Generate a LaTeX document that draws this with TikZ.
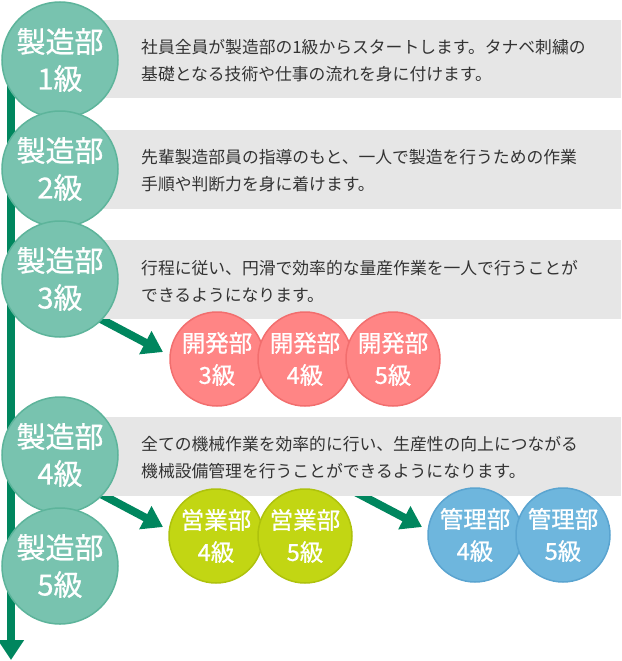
\documentclass[tikz,border=0pt]{standalone}
\usepackage{fontspec}
\setmainfont{Noto Sans CJK JP}
\newfontfamily\cjkbold[FakeBold=0.8]{Noto Sans CJK JP}
\usetikzlibrary{arrows.meta}
\definecolor{tealfill}{HTML}{78C3AF}
\definecolor{tealline}{HTML}{5DB49B}
\definecolor{redfill}{HTML}{FF8585}
\definecolor{redline}{HTML}{F26E6E}
\definecolor{limefill}{HTML}{C2D613}
\definecolor{limeline}{HTML}{AEC20C}
\definecolor{bluefill}{HTML}{6EB6DD}
\definecolor{blueline}{HTML}{5AA4D0}
\definecolor{barfill}{HTML}{E6E6E6}
\definecolor{arrowgreen}{HTML}{00865E}
\definecolor{bodytext}{HTML}{333333}
\tikzset{
  bigcircle/.style={circle, inner sep=0pt, minimum size=116pt, fill=tealfill,
    draw=tealline, line width=1.5pt, text=white, align=center,
    font=\cjkbold\fontsize{29}{37}\selectfont},
  smallcircle/.style={circle, inner sep=0pt, minimum size=94pt,
    line width=1.5pt, text=white, align=center,
    font=\cjkbold\fontsize{23.5}{32}\selectfont},
  redcircle/.style={smallcircle, fill=redfill, draw=redline},
  limecircle/.style={smallcircle, fill=limefill, draw=limeline},
  bluecircle/.style={smallcircle, fill=bluefill, draw=blueline},
  bar/.style={fill=barfill, draw=none},
  bartext/.style={anchor=west, inner sep=0pt, align=left, text=bodytext,
    font=\fontsize{16.8}{27}\selectfont},
  flow/.style={draw=arrowgreen, line width=8pt,
    -{Triangle[length=20pt,width=25pt]}},
}
\begin{document}
\begin{tikzpicture}[x=1pt,y=-1pt]
\useasboundingbox (0,0) rectangle (621,661);
% arrows (behind bars and circles)
\coordinate (a1s) at (80,308);
\coordinate (a1e) at (163,352);
\coordinate (a2s) at (80,483);
\coordinate (a2e) at (163,527);
\coordinate (a3s) at (340,484);
\coordinate (a3e) at (422,527);
\draw[flow] (a1s) -- (a1e);
\draw[flow] (a2s) -- (a2e);
\draw[flow] (a3s) -- (a3e);
% grey bars
\fill[bar] (100,20) rectangle (621,98);
\fill[bar] (100,130) rectangle (621,209);
\fill[bar] (100,240) rectangle (621,319);
\fill[bar] (100,417) rectangle (621,496);
\node[bartext] (t1) at (141,61) {社員全員が製造部の1級からスタートします。タナベ刺繍の\\基礎となる技術や仕事の流れを身に付けます。};
\node[bartext] (t2) at (141,171) {先輩製造部員の指導のもと、一人で製造を行うための作業\\手順や判断力を身に着けます。};
\node[bartext] (t3) at (141,281) {行程に従い、円滑で効率的な量産作業を一人で行うことが\\できるようになります。};
\node[bartext] (t4) at (141,458) {全ての機械作業を効率的に行い、生産性の向上につながる\\機械設備管理を行うことができるようになります。};
% vertical line
\coordinate (vtop) at (11,60);
\coordinate (vend) at (11,660);
\draw[flow] (vtop) -- (vend);
% main circles
\node[bigcircle] (m1) at (60,60) {製造部\\1級};
\node[bigcircle] (m2) at (60,169) {製造部\\2級};
\node[bigcircle] (m3) at (60,279) {製造部\\3級};
\node[bigcircle] (m4) at (60,455) {製造部\\4級};
\node[bigcircle] (m5) at (60,566) {製造部\\5級};
% branch circles
\node[redcircle] (k3) at (217,359) {開発部\\3級};
\node[redcircle] (k4) at (305,359) {開発部\\4級};
\node[redcircle] (k5) at (393,359) {開発部\\5級};
\node[limecircle] (e4) at (216,536) {営業部\\4級};
\node[limecircle] (e5) at (305,536) {営業部\\5級};
\node[bluecircle] (g4) at (475,535) {管理部\\4級};
\node[bluecircle] (g5) at (563,535) {管理部\\5級};
\end{tikzpicture}
\end{document}
